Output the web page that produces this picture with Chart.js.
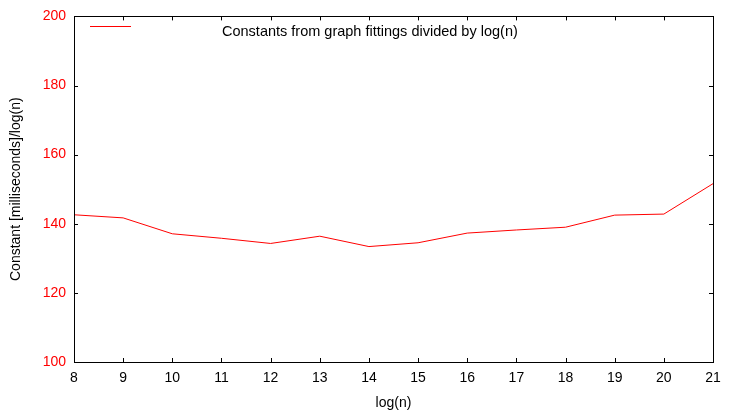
<!DOCTYPE html>
<html>
<head>
<meta charset="utf-8">
<script src="https://cdn.jsdelivr.net/npm/chart.js@4.4.1/dist/chart.umd.min.js"></script>
<style>
html,body{margin:0;padding:0;background:#fff;}
#wrap{width:733px;height:414px;}
</style>
</head>
<body>
<div id="wrap"><canvas id="c" width="733" height="414"></canvas></div>
<script>
const logN = [8,9,10,11,12,13,14,15,16,17,18,19,20,21];
const constants = [142.6,141.7,137.1,135.8,134.3,136.4,133.4,134.5,137.3,138.2,139.0,142.5,142.8,151.6];
const seriesLabel = 'Constants from graph fittings divided by log(n)';
const xTitle = 'log(n)';
const yTitle = 'Constant [milliseconds]/log(n)';

const FONT = "'Liberation Sans', Arial, sans-serif";
const FS = 14;

const gnuplotFrame = {
  id: 'gnuplotFrame',
  afterDatasetsDraw(chart) {
    const ctx = chart.ctx, a = chart.chartArea;
    const xs = chart.scales.x, ys = chart.scales.y;
    ctx.save();
    ctx.strokeStyle = '#000';
    ctx.lineWidth = 1;
    const L = 4;
    ctx.beginPath();
    xs.ticks.forEach(t => {
      const px = Math.round(xs.getPixelForValue(t.value)) + 0.5;
      ctx.moveTo(px, a.bottom); ctx.lineTo(px, a.bottom - L);
      ctx.moveTo(px, a.top); ctx.lineTo(px, a.top + L);
    });
    ys.ticks.forEach(t => {
      const py = Math.round(ys.getPixelForValue(t.value)) + 0.5;
      ctx.moveTo(a.left, py); ctx.lineTo(a.left + L, py);
      ctx.moveTo(a.right, py); ctx.lineTo(a.right - L, py);
    });
    ctx.stroke();
    ctx.strokeRect(Math.round(a.left) + 0.5, Math.round(a.top) + 0.5, Math.round(a.right - a.left), Math.round(a.bottom - a.top));
    // key
    ctx.strokeStyle = chart.data.datasets[0].borderColor;
    ctx.beginPath();
    ctx.moveTo(90, 26.5); ctx.lineTo(131, 26.5);
    ctx.stroke();
    ctx.fillStyle = '#000';
    ctx.font = '14.5px ' + FONT;
    ctx.textBaseline = 'alphabetic';
    ctx.textAlign = 'left';
    ctx.fillText(chart.data.datasets[0].label, 222, 36);
    ctx.restore();
  }
};

new Chart(document.getElementById('c'), {
  type: 'line',
  data: {
    datasets: [{
      label: seriesLabel,
      data: logN.map((x, i) => ({x: x, y: constants[i]})),
      borderColor: '#ff0000',
      borderWidth: 1,
      pointRadius: 0,
      tension: 0,
      fill: false
    }]
  },
  plugins: [gnuplotFrame],
  options: {
    responsive: false,
    animation: false,
    devicePixelRatio: 1,
    layout: {padding: {top: 14, right: 20, left: 0, bottom: 0}},
    plugins: {legend: {display: false}, tooltip: {enabled: false}},
    scales: {
      x: {
        type: 'linear', min: 8, max: 21,
        ticks: {stepSize: 1, color: '#000', font: {family: FONT, size: FS}, padding: 8, maxRotation: 0},
        grid: {display: false, drawTicks: false},
        border: {display: false},
        title: {display: true, text: xTitle, color: '#000', font: {family: FONT, size: FS}, padding: {top: 6, bottom: 2}},
        afterFit(s) { s.height = 52; }
      },
      y: {
        min: 100, max: 200,
        ticks: {stepSize: 20, color: '#ff0000', font: {family: FONT, size: FS}, padding: 8},
        grid: {display: false, drawTicks: false},
        border: {display: false},
        title: {display: true, text: yTitle, color: '#000', font: {family: FONT, size: FS}, padding: {top: 8, bottom: 4}},
        afterFit(s) { s.width = 74; }
      }
    }
  }
});
</script>
</body>
</html>
